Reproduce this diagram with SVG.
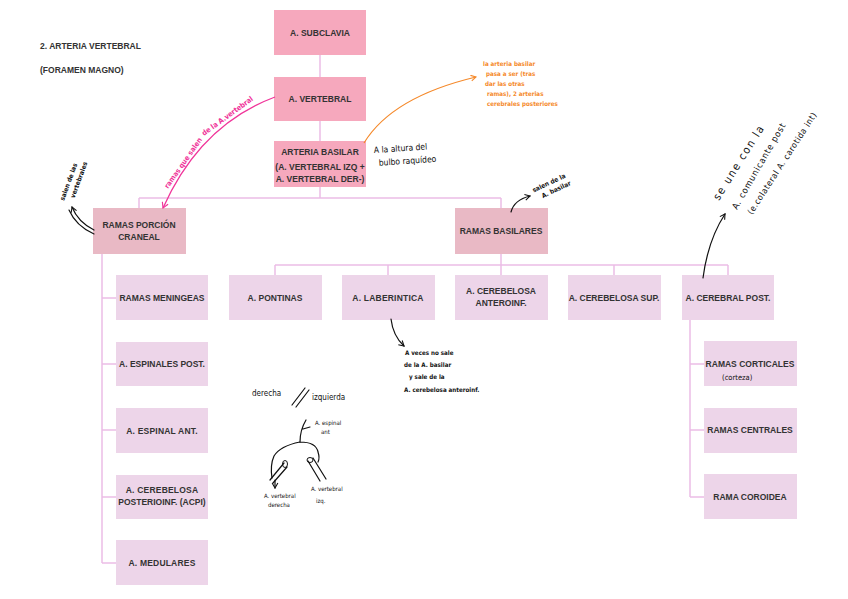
<svg xmlns="http://www.w3.org/2000/svg" width="848" height="599" viewBox="0 0 848 599">
<style>
.b1{fill:#f6a8bd}
.b2{fill:#e9b9c5}
.b3{fill:#edd5e9}
.t{font-family:"Liberation Sans",Arial,sans-serif;font-weight:bold;font-size:8.5px;fill:#333;text-anchor:middle}
.sp{letter-spacing:0.2px}
.c{stroke:#ebbde6;stroke-width:1.5;fill:none}
.h{font-family:"DejaVu Sans Condensed","DejaVu Sans",sans-serif;fill:#111}
.ink{stroke:#111;fill:none;stroke-width:1.2;stroke-linecap:round}
</style>
<defs>
<marker id="ak" viewBox="0 0 10 10" refX="8" refY="5" markerWidth="6" markerHeight="6" orient="auto"><path d="M1,1 L8,5 L1,9" fill="none" stroke="#111" stroke-width="1.5"/></marker>
<marker id="ap" viewBox="0 0 10 10" refX="8" refY="5" markerWidth="6" markerHeight="6" orient="auto"><path d="M1,1 L8,5 L1,9" fill="none" stroke="#f0359a" stroke-width="1.5"/></marker>
<marker id="ao" viewBox="0 0 10 10" refX="8" refY="5" markerWidth="6" markerHeight="6" orient="auto"><path d="M1,1 L8,5 L1,9" fill="none" stroke="#f5892a" stroke-width="1.5"/></marker>
</defs>
<rect width="848" height="599" fill="#fff"/>
<g id="title">
<text class="t" x="40" y="49" style="text-anchor:start">2. ARTERIA VERTEBRAL</text>
<text class="t" x="40" y="73" style="text-anchor:start">(FORAMEN MAGNO)</text>
</g>
<g id="connectors">
<path class="c" d="M320,55V77M320,121V141M320,187V198M139,198H501M139,198V208M501,198V208"/>
<path class="c" d="M102,254V563M102,298H116M102,364H116M102,430H116M102,497H116M102,563H116"/>
<path class="c" d="M501,254V265M275,265H728M275,265V275M388,265V275M501,265V275M614,265V275M728,265V275"/>
<path class="c" d="M690,320V497M690,364H704M690,430H704M690,497H704"/>
</g>
<g id="n-subclavia"><rect class="b1" x="274" y="10" width="92" height="45"/><text class="t" x="320" y="36">A. SUBCLAVIA</text></g>
<g id="n-vertebral"><rect class="b1" x="274" y="77" width="92" height="44"/><text class="t" x="320" y="102">A. VERTEBRAL</text></g>
<g id="n-basilar"><rect class="b1" x="274" y="141" width="92" height="46"/><text class="t" x="320" y="155">ARTERIA BASILAR</text><text class="t" x="320" y="170">(A. VERTEBRAL IZQ +</text><text class="t" x="320" y="182">A. VERTEBRAL DER-)</text></g>
<g id="n-craneal"><rect class="b2" x="93" y="208" width="93" height="46"/><text class="t" x="139" y="228">RAMAS PORCIÓN</text><text class="t" x="139" y="240">CRANEAL</text></g>
<g id="n-basilares"><rect class="b2" x="455" y="208" width="93" height="46"/><text class="t" x="501" y="234">RAMAS BASILARES</text></g>
<g id="n-meningeas"><rect class="b3" x="116" y="275" width="92" height="45"/><text class="t" x="162" y="301">RAMAS MENINGEAS</text></g>
<g id="n-espinales"><rect class="b3" x="116" y="342" width="92" height="44"/><text class="t" x="162" y="367">A. ESPINALES POST.</text></g>
<g id="n-espinal"><rect class="b3" x="116" y="408" width="92" height="45"/><text class="t sp" x="162" y="434">A. ESPINAL ANT.</text></g>
<g id="n-acpi"><rect class="b3" x="116" y="475" width="92" height="44"/><text class="t sp" x="162" y="493">A. CEREBELOSA</text><text class="t" x="162" y="505">POSTERIOINF. (ACPI)</text></g>
<g id="n-medulares"><rect class="b3" x="116" y="540" width="92" height="45"/><text class="t sp" x="162" y="566">A. MEDULARES</text></g>
<g id="n-pontinas"><rect class="b3" x="229" y="275" width="93" height="45"/><text class="t" x="275" y="301">A. PONTINAS</text></g>
<g id="n-laberintica"><rect class="b3" x="342" y="275" width="93" height="45"/><text class="t sp" x="388" y="301">A. LABERINTICA</text></g>
<g id="n-anteroinf"><rect class="b3" x="455" y="275" width="93" height="45"/><text class="t" x="501" y="294">A. CEREBELOSA</text><text class="t" x="501" y="306">ANTEROINF.</text></g>
<g id="n-sup"><rect class="b3" x="568" y="275" width="93" height="45"/><text class="t" x="614" y="301">A. CEREBELOSA SUP.</text></g>
<g id="n-cerebral"><rect class="b3" x="682" y="275" width="92" height="45"/><text class="t" x="728" y="301">A. CEREBRAL POST.</text></g>
<g id="n-corticales"><rect class="b3" x="704" y="341" width="93" height="45"/><text class="t" x="750" y="367">RAMAS CORTICALES</text><text class="h" x="722" y="380" font-size="7.5">(corteza)</text></g>
<g id="n-centrales"><rect class="b3" x="704" y="408" width="93" height="45"/><text class="t" x="750" y="433">RAMAS CENTRALES</text></g>
<g id="n-coroidea"><rect class="b3" x="704" y="474" width="93" height="45"/><text class="t" x="750" y="500">RAMA COROIDEA</text></g>
<g id="annotations">
<path d="M275,97 Q200,125 163,208" fill="none" stroke="#f0359a" stroke-width="1.3" marker-end="url(#ap)"/>
<g font-family="DejaVu Sans Condensed,sans-serif" font-size="7.2" font-weight="bold" fill="#f0359a">
<text x="168" y="189" transform="rotate(-55 168 189)">ramas que salen</text>
<text x="204" y="136" transform="rotate(-36 204 136)">de la A.vertebral</text>
</g>
<path d="M364,143 Q392,97 476,77" fill="none" stroke="#f5892a" stroke-width="1.2" marker-end="url(#ao)"/>
<g font-family="DejaVu Sans Condensed,sans-serif" font-size="6.2" fill="#f5892a" font-weight="bold">
<text x="483" y="66">la arteria basilar</text>
<text x="486" y="76">pasa a ser (tras</text>
<text x="485" y="86">dar las otras</text>
<text x="487" y="96">ramas), 2 arterias</text>
<text x="487" y="106">cerebrales posteriores</text>
</g>
<g class="h" font-size="8.5" transform="rotate(-4 375 152)"><text x="374" y="153">A la altura del</text><text x="378" y="166">bulbo raquídeo</text></g>
<g class="h" font-size="6.5" font-weight="bold" transform="rotate(-70 64 201)"><text x="64" y="201">salen de las</text><text x="70" y="210">vertebrales</text></g>
<path class="ink" d="M94,230 Q78,222 72,207" marker-end="url(#ak)"/>
<path class="ink" d="M94,234 Q76,226 69,210" stroke-width="0.8"/>
<g class="h" font-size="6.5" font-weight="bold" transform="rotate(-25 535 193)"><text x="534" y="192">salen de la</text><text x="540" y="201">A. basilar</text></g>
<path class="ink" d="M511,212 Q514,200 530,196" stroke-width="1.6" marker-end="url(#ak)"/>
<g class="h" font-size="11" letter-spacing="1.6" transform="rotate(-58 719 201)"><text x="719" y="201">se une con la</text></g>
<g class="h" font-size="9" letter-spacing="0.8" transform="rotate(-60 737 210)"><text x="737" y="210">A. comunicante post</text></g>
<g class="h" font-size="8.5" letter-spacing="0.6" transform="rotate(-57 752 215)"><text x="752" y="215">(e.colateral A. carotida int)</text></g>
<path class="ink" d="M703,278 Q708,240 725,214" marker-end="url(#ak)"/>
<path class="ink" d="M391,319 Q393,336 404,346" marker-end="url(#ak)"/>
<g class="h" font-size="6.2" font-weight="bold"><text x="405" y="355">A veces no sale</text><text x="404" y="367">de la A. basilar</text><text x="409" y="379">y sale de la</text><text x="404" y="392">A. cerebelosa anteroinf.</text></g>
<g class="h" font-size="8"><text x="252" y="396">derecha</text><text x="312" y="400">izquierda</text></g>
<path class="ink" d="M292,405 L305,388 M296,407 L309,390"/>
<g class="h" font-size="6"><text x="315" y="425">A. espinal</text><text x="321" y="434">ant</text>
<text x="264" y="498">A. vertebral</text><text x="268" y="507">derecha</text>
<text x="311" y="491">A. vertebral</text><text x="316" y="503">izq.</text></g>
<path class="ink" d="M300,442 Q300,430 306,420 M303,429 L310,427" stroke-width="1"/>
<path class="ink" d="M300,442 Q280,446 274,456 Q270,465 272,478 M300,442 Q316,442 318,452 Q320,458 318,462" stroke-width="1"/>
<path class="ink" d="M284,463 L270,480 M287,467 L273,483" stroke-width="1"/>
<ellipse cx="285" cy="464" rx="2.5" ry="3.5" fill="none" stroke="#111" stroke-width="1"/>
<path class="ink" d="M275,480 L275,488" stroke-width="1" marker-end="url(#ak)"/>
<path class="ink" d="M308,461 L320,481 M313,458 L326,479" stroke-width="1"/>
<ellipse cx="310" cy="460" rx="3" ry="2.5" fill="none" stroke="#111" stroke-width="1"/>
</g>
</svg>
